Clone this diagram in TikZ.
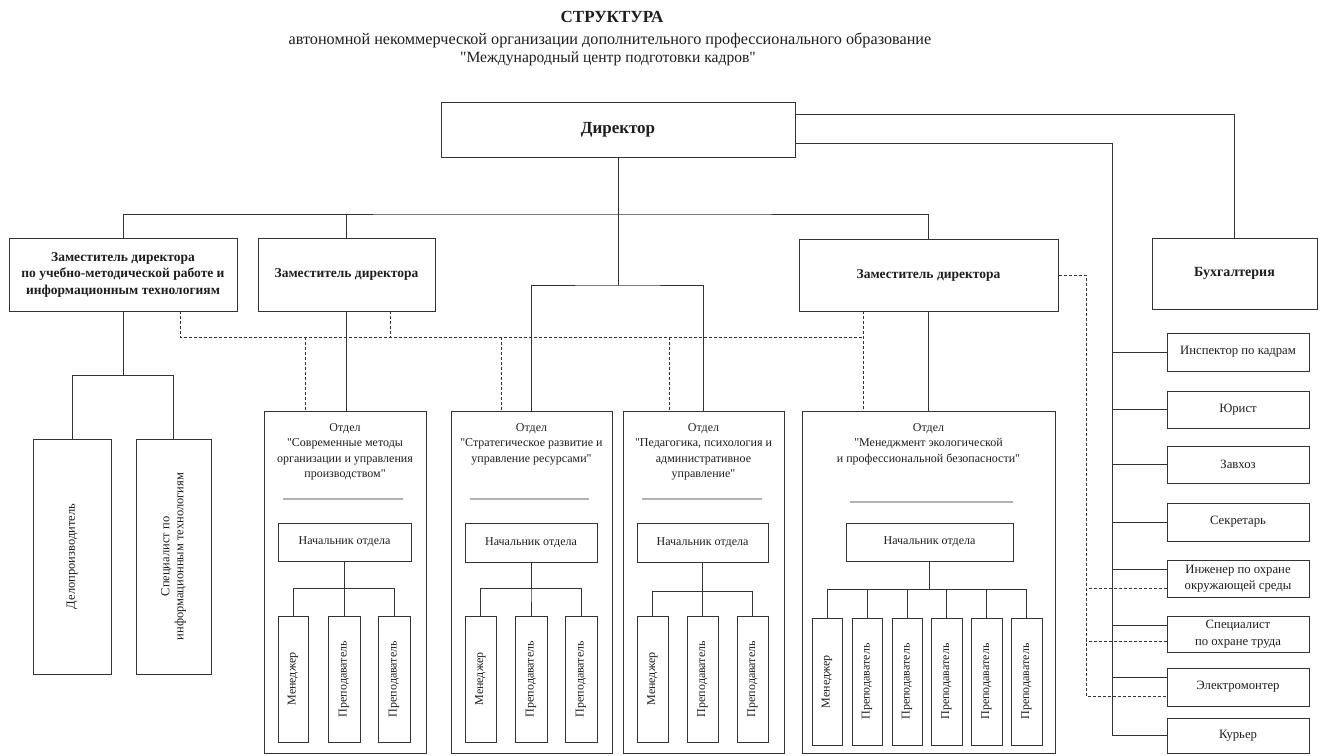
\documentclass[tikz,border=0pt]{standalone}
\usepackage{fontspec}
\setmainfont{Liberation Serif}
\usetikzlibrary{calc}
\definecolor{lc}{HTML}{333333}
\definecolor{tc}{HTML}{1E1E1E}
\newcommand{\qq}{\textquotedbl}
\newcommand{\BoxH}[7]{%
  \pgfmathsetmacro\bw{#5-#3}\pgfmathsetmacro\bh{#6-#4}%
  \pgfmathsetmacro\bcx{(#3+#5)/2}\pgfmathsetmacro\bcy{(#4+#6)/2}%
  \node[#1, minimum width=\bw pt, minimum height=\bh pt] (#2) at (\bcx,\bcy) {#7};}
\newcommand{\BoxV}[7]{%
  \pgfmathsetmacro\bw{#5-#3}\pgfmathsetmacro\bh{#6-#4}%
  \pgfmathsetmacro\bcx{(#3+#5)/2}\pgfmathsetmacro\bcy{(#4+#6)/2}%
  \node[#1, rotate=90, minimum width=\bh pt, minimum height=\bw pt] (#2) at (\bcx,\bcy) {#7};}
\begin{document}
\begin{tikzpicture}[x=1pt,y=-1pt,
  bx/.style={draw=lc, line width=1pt, inner sep=1pt, align=center, text=tc},
  ln/.style={draw=lc, line width=1pt},
  dsh/.style={draw=lc, line width=0.8pt, dash pattern=on 3pt off 2pt},
  sep/.style={draw=gray!60, line width=1.2pt},
  txt/.style={text=tc, inner sep=0pt, align=center},
  tf/.style={font=\bfseries\fontsize{17}{20}\selectfont},
  stf/.style={font=\fontsize{16.2}{18}\selectfont},
  stf2/.style={font=\fontsize{15.6}{18}\selectfont},
  zf/.style={font=\bfseries\fontsize{13.5}{16.5}\selectfont},
  bf/.style={font=\bfseries\fontsize{14}{16.5}\selectfont},
  df/.style={font=\fontsize{12}{15.5}\selectfont},
  nf/.style={font=\fontsize{12}{14}\selectfont},
  sf/.style={font=\fontsize{12}{14}\selectfont},
  lf/.style={font=\fontsize{12.5}{14}\selectfont},
  rf/.style={font=\fontsize{12.7}{16.5}\selectfont}]
\fill[white] (0,0) rectangle (1324,755);
\useasboundingbox (0,0) rectangle (1324,755);
% title
\node[txt, tf] (t1) at (612,17) {СТРУКТУРА};
\node[txt, stf] (t2) at (610,40) {автономной некоммерческой организации дополнительного профессионального образование};
\node[txt, stf2] (t3) at (608,59) {\qq Международный центр подготовки кадров\qq};
% top level
\BoxH{bx, tf}{dir}{441}{102}{795}{157}{Директор}
\BoxH{bx, zf}{z1}{9}{238}{237}{311}{Заместитель директора\\по учебно-методической работе и\\информационным технологиям}
\BoxH{bx, zf}{z2}{258}{238}{435}{311}{Заместитель директора}
\BoxH{bx, zf}{z3}{799}{239}{1058}{311}{Заместитель директора}
\BoxH{bx, bf}{buh}{1152}{238}{1317}{309}{Бухгалтерия}
% left subordinates
\BoxV{bx, lf}{l1}{33}{439}{111}{674}{Делопроизводитель}
\BoxV{bx, lf}{l2}{136}{439}{211}{674}{Специалист по\\информационным технологиям}
% departments
\BoxH{bx}{d1}{264}{411}{426}{753}{}
\BoxH{bx}{d2}{451}{411}{612}{753}{}
\BoxH{bx}{d3}{623}{411}{784}{753}{}
\BoxH{bx}{d4}{802}{411}{1055}{753}{}
\node[txt, df, anchor=north] (d1t) at (345,423) {Отдел\\\qq Современные методы\\организации и управления\\производством\qq};
\node[txt, df, anchor=north] (d2t) at (531.5,423) {Отдел\\\qq Стратегическое развитие и\\управление ресурсами\qq};
\node[txt, df, anchor=north] (d3t) at (703.5,423) {Отдел\\\qq Педагогика, психология и\\административное\\управление\qq};
\node[txt, df, anchor=north] (d4t) at (928.5,423) {Отдел\\\qq Менеджмент экологической\\и профессиональной безопасности\qq};
\draw[sep] (283,499) -- (403,499);
\draw[sep] (470,499) -- (589,499);
\draw[sep] (642,499) -- (762,499);
\draw[sep] (850,502) -- (1013,502);
\BoxH{bx, nf}{n1}{278}{523}{411}{561}{Начальник отдела}
\BoxH{bx, nf}{n2}{465}{523}{597}{562}{Начальник отдела}
\BoxH{bx, nf}{n3}{637}{523}{768}{562}{Начальник отдела}
\BoxH{bx, nf}{n4}{846}{523}{1013}{561}{Начальник отдела}
\BoxV{bx, sf}{m11}{278}{616}{308}{742}{Менеджер}
\BoxV{bx, sf}{m12}{328}{616}{360}{742}{Преподаватель}
\BoxV{bx, sf}{m13}{378}{616}{410}{742}{Преподаватель}
\BoxV{bx, sf}{m21}{465}{616}{496}{742}{Менеджер}
\BoxV{bx, sf}{m22}{515}{616}{547}{742}{Преподаватель}
\BoxV{bx, sf}{m23}{565}{616}{597}{742}{Преподаватель}
\BoxV{bx, sf}{m31}{637}{616}{668}{742}{Менеджер}
\BoxV{bx, sf}{m32}{687}{616}{718}{742}{Преподаватель}
\BoxV{bx, sf}{m33}{737}{616}{768}{742}{Преподаватель}
\BoxV{bx, sf}{m41}{812}{618}{842}{745}{Менеджер}
\BoxV{bx, sf}{m42}{852}{618}{882}{745}{Преподаватель}
\BoxV{bx, sf}{m43}{892}{618}{922}{745}{Преподаватель}
\BoxV{bx, sf}{m44}{931}{618}{962}{745}{Преподаватель}
\BoxV{bx, sf}{m45}{971}{618}{1002}{745}{Преподаватель}
\BoxV{bx, sf}{m46}{1011}{618}{1042}{745}{Преподаватель}
% right column
\BoxH{bx, rf}{k1}{1167}{333}{1309}{371}{Инспектор по кадрам}
\BoxH{bx, rf}{k2}{1167}{391}{1309}{428}{Юрист}
\BoxH{bx, rf}{k3}{1167}{446}{1309}{483}{Завхоз}
\BoxH{bx, rf}{k4}{1167}{503}{1309}{541}{Секретарь}
\BoxH{bx, rf}{k5}{1167}{560}{1309}{597}{Инженер по охране\\окружающей среды}
\BoxH{bx, rf}{k6}{1167}{616}{1309}{652}{Специалист\\по охране труда}
\BoxH{bx, rf}{k7}{1167}{668}{1309}{706}{Электромонтер}
\BoxH{bx, rf}{k8}{1167}{718}{1309}{753}{Курьер}
% helper coordinates
\coordinate (bus) at (618,214);
\coordinate (mid) at (618,285);
\coordinate (trk) at (1112,143);
\coordinate (dh) at (0,337);
\coordinate (dv) at (1086,275);
\coordinate (a1) at (180,311);
\coordinate (a2) at (390,311);
\coordinate (a3) at (863,311);
\coordinate (b1) at (305,411);
\coordinate (b2) at (501,411);
\coordinate (b3) at (669,411);
\path ([yshift=9.5pt]k5.west) coordinate (k5s) ([yshift=-9.5pt]k5.west) coordinate (k5d)
      ([yshift=9pt]k6.west) coordinate (k6s) ([yshift=-7pt]k6.west) coordinate (k6d)
      ([yshift=10pt]k7.west) coordinate (k7s) ([yshift=-9pt]k7.west) coordinate (k7d);
% solid connectors
\draw[ln] (z1.north) |- (bus) -| (z3.north);
\draw[ln] (z2.north) -- (z2.north |- bus);
\draw[ln] (dir.south) -- (mid);
\draw[ln] (d2.north) |- (mid) -| (d3.north);
\draw[ln] (z2.south) -- (z2.south |- d1.north);
\draw[ln] (z3.south) -- (z3.south |- d4.north);
\draw[ln] (z1.south) -- ++(0,64) -| (l1.east);
\draw[ln] (z1.south) -- ++(0,64) -| (l2.east);
\foreach \c in {m11,m12,m13} \draw[ln] (n1.south) -- ++(0,27) -| (\c.east);
\foreach \c in {m21,m22,m23} \draw[ln] (n2.south) -- ++(0,26) -| (\c.east);
\foreach \c in {m31,m32,m33} \draw[ln] (n3.south) -- ++(0,29) -| (\c.east);
\foreach \c in {m41,m42,m43,m44,m45,m46} \draw[ln] (n4.south) -- ++(0,28) -| (\c.east);
\draw[ln] ([yshift=15.5pt]dir.east) -| (buh.north);
\draw[ln] ([yshift=-13.5pt]dir.east) -| (trk |- k8.west) -- (k8.west);
\foreach \k in {k1,k2,k3,k4} \draw[ln] (\k.west) -- (\k.west -| trk);
\foreach \k in {k5s,k6s,k7s} \draw[ln] (\k) -- (\k -| trk);
% dashed connectors
\draw[dsh] (a1) -- (a1 |- dh) -- (a3 |- dh);
\draw[dsh] (a2) -- (a2 |- dh);
\draw[dsh] (a3) -- (a3 |- d4.north);
\draw[dsh] (b1 |- dh) -- (b1);
\draw[dsh] (b2 |- dh) -- (b2);
\draw[dsh] (b3 |- dh) -- (b3);
\draw[dsh] (z3.east) -- (dv) -- (dv |- k7d) -- (k7d);
\draw[dsh] (k5d) -- (k5d -| dv);
\draw[dsh] (k6d) -- (k6d -| dv);
\end{tikzpicture}
\end{document}
